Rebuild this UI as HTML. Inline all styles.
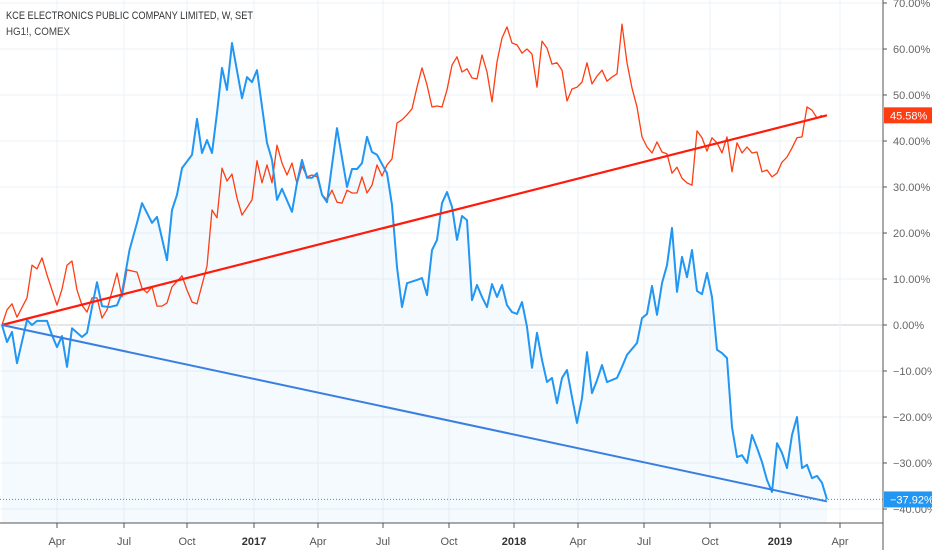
<!DOCTYPE html>
<html><head><meta charset="utf-8"><style>
html,body{margin:0;padding:0;background:#fff;}
svg{display:block;font-family:"Liberation Sans",sans-serif;}
</style></head><body>
<svg id="chart" width="932" height="550" viewBox="0 0 932 550" xmlns="http://www.w3.org/2000/svg">
<g id="grid"></g>
<g id="plot"></g>
<g id="axes"></g>
<text x="6" y="19" font-size="11" fill="#333" textLength="247" lengthAdjust="spacingAndGlyphs">KCE ELECTRONICS PUBLIC COMPANY LIMITED, W, SET</text>
<text x="6" y="35" font-size="11" fill="#444" textLength="64" lengthAdjust="spacingAndGlyphs">HG1!, COMEX</text>
</svg>
<script>
const yTicks = [70,60,50,40,30,20,10,0,-10,-20,-30,-40];
const xTickLabels = ["Apr","Jul","Oct","2017","Apr","Jul","Oct","2018","Apr","Jul","Oct","2019","Apr"];
const xTickWeeks = [11,24.4,37,50.4,63.2,76.2,89.4,102.4,115.2,128.4,141.6,155.6,167.6];
const kceWeeks = [0,1,2,3,5,6,7,9,10,11,12,13,14,16,17,18,19,20,21.5,23,24,25.5,27,28,30,31,33,34,35,36,38,39,40,41,42,43,44,45,46,48,49,50,51,53,54,55,56,58,59,60,61,62,63,64,65,67,69,70,71,72,73,74,75,77,78,79,80,81,83,84,85,86,87,88,89,90,91,92,93,94,95,96,97,98,99,100,101,102,103,104,105,106,107,108,109,110,111,112,113,114,115,116,117,118,119,120,121,123,124,125,127,128,129,130,131,132,133,134,135,136,137,138,139,140,141,142,143,144,145,146,147,148,149,150,151,152,153,154,155,156,157,158,159,160,161,162,163,164,165];
const kceValues = [0,-3.7,-1.5,-8.3,1.1,0,0.9,0.9,-2.2,-4.8,-2.4,-9.1,-0.7,-2.6,-1.7,3.9,9.3,4.1,3.9,4.3,7.0,16.3,22.2,26.5,22.2,23.5,14.1,25,28.3,34.1,37,44.8,37.4,40.2,37.4,46.1,55.9,51.1,61.3,49.3,53.9,52.8,55.4,39.6,35.9,27.2,29.6,24.6,30.9,35.9,32,32,33,28.3,26.7,42.8,30,33.9,33.9,35.2,40.9,37.6,37,33,26.1,12.6,3.9,9.1,9.8,10.2,6.5,16.3,18.5,26.5,28.9,25.7,18.5,23.7,22.8,5.4,8.7,6.1,3.9,8.9,6.1,8.7,4.3,2.8,2.4,5,-0.4,-9.3,-1.7,-7.6,-12.4,-11.5,-17,-11.5,-9.8,-15.7,-21.3,-15.9,-5.9,-14.8,-12,-8.7,-12.4,-11.5,-9.1,-6.5,-3.9,1.5,2.4,8.5,2.2,9.1,13,21.1,7.2,14.8,10.4,16.3,7.4,6.7,11.3,6.1,-5.4,-6.1,-7.2,-22.2,-28.7,-28.3,-30,-23.9,-26.7,-29.8,-33.7,-36.3,-25.7,-27.8,-31.1,-23.9,-20,-31.1,-30.4,-33.3,-32.8,-34.3,-37.92];
const hgWeeks = [0,1,2,3,5,6,7,8,9,11,12,13,14,15,16,17,18,19,20,21,23,24,25,27,28,29,30,31,32,33,34,36,37,38,39,41,42,43,44,45,46,47,48,50,51,52,53,54,55,56,57,58,59,60,61,62,63,64,65,66,67,68,69,70,71,72,73,74,75,76,77,78,79,80,81,82,83,84,85,86,87,88,89,90,91,92,93,94,95,96,97,98,99,100,101,102,103,104,105,106,107,108,109,110,111,112,113,114,115,116,117,118,119,120,121,122,123,124,125,126,127,128,129,130,131,132,133,134,135,136,137,138,139,140,141,142,143,144,145,146,147,148,149,150,151,152,153,154,155,156,157,158,159,160,161,162,163,164];
const hgValues = [0,3.3,4.6,1.7,5.9,13,12.2,14.6,10.9,4.3,7.8,13,13.9,7.6,4.3,2.8,5.9,5.9,1.5,3.3,11.3,6.1,12,11.5,8,7,8.3,4.1,4.1,4.8,8.3,10.7,7.6,5,4.6,12.8,25,23.3,34.1,31.3,32.8,27.6,23.9,27.2,35.7,30.9,34.8,30.9,39.1,35.2,32.6,35.2,30.7,34.6,32.2,32.6,32.2,28.3,27.2,29.3,26.7,26.5,29.3,28.7,28.7,32.2,28.7,30.4,34.8,32.4,34.8,36.1,43.9,44.6,45.7,47,51.7,55.9,52.2,47.4,47.6,47.4,51.1,56.5,58.3,55,55.7,53.7,53.5,58.7,55,48.5,57.2,62.4,64.8,61.3,60.9,59.1,60,58.9,51.7,61.7,60.2,56.7,57,55.4,48.7,51.3,51.7,52.8,57,52.4,54.1,55.4,53,53.9,54.6,65.4,57,51.5,47.4,40.9,38.7,37.4,39.8,37.6,37.2,33,34.3,31.9,30.9,30.4,42.2,40.7,37.8,40.7,39.6,37.4,40.9,33.3,39.6,37.4,38.7,37.4,37.6,33.3,33.7,32.2,33,35.4,36.5,38.5,40.7,40.9,47.4,46.7,45,45.58];
const hgTrend = [0, 45.58];
const kceTrend = [0, -37.92];

const NS="http://www.w3.org/2000/svg";
const X = w => 2 + w*5;
const Y = v => 325 - v*4.6;
const AXIS_X = 883, BOTTOM = 523;
function mk(tag, attrs, parent){const e=document.createElementNS(NS,tag);for(const k in attrs)e.setAttribute(k,attrs[k]);parent.appendChild(e);return e;}
const grid=document.getElementById('grid'), plot=document.getElementById('plot'), axes=document.getElementById('axes');

yTicks.forEach(v=>{
  const l=mk('line',{x1:0,x2:AXIS_X,y1:Y(v),y2:Y(v),stroke:v===0?'#c8ccd2':'#eef3f8','stroke-width':1},grid);
  
  
  const t=mk('text',{x:AXIS_X+10,y:Y(v)+4,'font-size':11,fill:'#666'},axes);
  
  
  t.textContent=(v<0?'\u2212':'')+Math.abs(v).toFixed(2)+'%';
  const tk=mk('line',{x1:AXIS_X,x2:AXIS_X+4,y1:Y(v),y2:Y(v),stroke:'#555'},axes);
  
  
});
xTickWeeks.forEach((w,i)=>{
  const gl=mk('line',{x1:X(w),x2:X(w),y1:0,y2:BOTTOM,stroke:'#eef3f8'},grid);
  
  
  const tk=mk('line',{x1:X(w),x2:X(w),y1:BOTTOM,y2:BOTTOM+5,stroke:'#555'},axes);
  
  
  const lab=xTickLabels[i];
  const bold=/^\d{4}$/.test(lab);
  const t=mk('text',{x:X(w),y:545,'font-size':11,fill:bold?'#333':'#555','font-weight':bold?'bold':'normal','text-anchor':'middle'},axes);
  
  
  t.textContent=lab;
});

let d='M'+X(kceWeeks[0])+','+Y(0);
kceWeeks.forEach((w,i)=>{d+=' L'+X(w)+','+Y(kceValues[i]);});
d+=' L'+X(kceWeeks[kceWeeks.length-1])+','+BOTTOM+' L'+X(kceWeeks[0])+','+BOTTOM+' Z';
const area=mk('path',{d:d,fill:'#2196f3','fill-opacity':0.05},plot);



function line(ws,vs,color,width,name){
  const p=mk('polyline',{points:ws.map((w,i)=>X(w)+','+Y(vs[i])).join(' '),fill:'none',stroke:color,'stroke-width':width,'stroke-linejoin':'round'},plot);
  
  
  return p;
}
line(hgWeeks,hgValues,'#ff3d12',1.3,'hg1-series-line');
line(kceWeeks,kceValues,'#2196f3',2,'kce-series-line');

const lastW = kceWeeks[kceWeeks.length-1];
const rt=mk('line',{x1:X(0),y1:Y(hgTrend[0]),x2:X(lastW),y2:Y(hgTrend[1]),stroke:'#ff1a0a','stroke-width':2.2},plot);


const bt=mk('line',{x1:X(0),y1:Y(kceTrend[0]),x2:X(lastW),y2:Y(kceTrend[1])+2,stroke:'#3a7fe0','stroke-width':2},plot);



const lastK=kceValues[kceValues.length-1], lastH=hgValues[hgValues.length-1];
const pl=mk('line',{x1:0,x2:AXIS_X,y1:Y(lastK),y2:Y(lastK),stroke:'#2196f3','stroke-width':1,'stroke-dasharray':'1,2'},plot);



const ax=mk('line',{x1:AXIS_X,x2:AXIS_X,y1:0,y2:550,stroke:'#555'},axes);


const bx=mk('line',{x1:0,x2:AXIS_X,y1:BOTTOM,y2:BOTTOM,stroke:'#555'},axes);



function badge(v,color,name){
  const y=Y(v);
  const r=mk('rect',{x:AXIS_X+1,y:y-8,width:49,height:16,fill:color},axes);
  
  
  const t=mk('text',{x:AXIS_X+7,y:y+4,'font-size':11,fill:'#fff'},axes);
  
  
  t.textContent=(v<0?'\u2212':'')+Math.abs(v).toFixed(2)+'%';
}
badge(lastH,'#ff3d12','hg1-last-value-badge');
badge(lastK,'#2196f3','kce-last-value-badge');
</script>
</body></html>
